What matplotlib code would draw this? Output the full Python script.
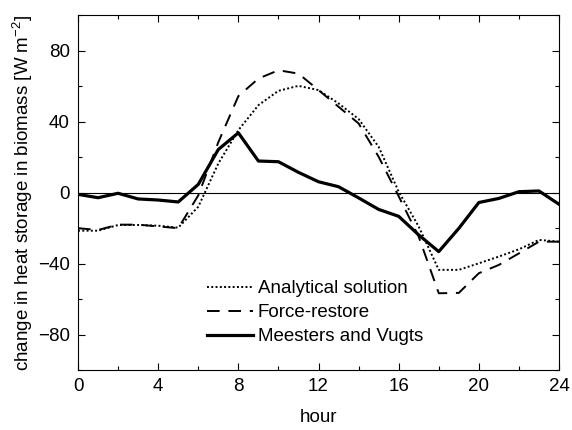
import matplotlib
matplotlib.use('Agg')
import matplotlib.pyplot as plt
from matplotlib.ticker import MultipleLocator

plt.rcParams['font.family'] = ['Liberation Sans', 'DejaVu Sans']
plt.rcParams['font.size'] = 13.5
plt.rcParams['mathtext.fontset'] = 'custom'
plt.rcParams['mathtext.rm'] = 'Liberation Sans'
plt.rcParams['mathtext.it'] = 'Liberation Sans'

# hourly values
hours = list(range(25))
analytical = [-21.4, -21.4, -18.2, -18.2, -18.6, -19.7, -7.9, 16.5, 35.3, 49.4,
              57.5, 60.3, 57.9, 50.4, 41.6, 25.9, 0.6, -19.1, -43.5, -43.5,
              -39.8, -36.0, -31.9, -26.6, -27.6]
force_restore = [-20.0, -21.0, -18.0, -18.0, -19.0, -20.0, -1.5, 28.5, 54.5, 64.4,
                 69.1, 67.2, 57.9, 48.5, 39.1, 20.3, -2.0, -24.8, -56.7, -56.5,
                 -45.4, -40.7, -34.2, -27.6, -27.6]
meesters = [-0.9, -2.8, -0.3, -3.5, -4.1, -5.2, 4.7, 24.4, 33.8, 17.9,
            17.5, 11.5, 6.2, 3.4, -2.9, -9.4, -13.3, -23.8, -33.2, -20.1,
            -5.5, -3.2, 0.6, 1.0, -6.5]

fig = plt.figure(figsize=(5.72, 4.30), dpi=100)
ax = fig.add_axes([0.1364, 0.1395, 0.8409, 0.8245])

ax.axhline(0, color='black', linewidth=0.8, zorder=1)
ax.plot(hours, analytical, color='black', linestyle=(0, (1, 1.2)), linewidth=1.4,
        label='Analytical solution')
ax.plot(hours, force_restore, color='black', linestyle=(0, (6.5, 4.5)), linewidth=1.4,
        label='Force-restore')
ax.plot(hours, meesters, color='black', linestyle='-', linewidth=2.3,
        label='Meesters and Vugts')

ax.set_xlim(0, 24)
ax.set_ylim(-100, 100)
ax.xaxis.set_major_locator(MultipleLocator(4))
ax.xaxis.set_minor_locator(MultipleLocator(2))
ax.yaxis.set_major_locator(MultipleLocator(40))
ax.yaxis.set_minor_locator(MultipleLocator(20))
ax.tick_params(which='both', direction='in', top=True, right=True, width=0.8)
ax.tick_params(which='major', length=5, pad=6)
ax.tick_params(which='minor', length=3)
for s in ax.spines.values():
    s.set_linewidth(0.8)

ax.set_xlabel('hour', labelpad=10)
ax.set_ylabel('change in heat storage in biomass [W m$^{-2}$]', labelpad=2)

ax.legend(loc='lower left', bbox_to_anchor=(0.268, 0.07), frameon=False,
          borderpad=0, borderaxespad=0, handlelength=2.45, handletextpad=0.25,
          labelspacing=0.37)

fig.savefig('out.png', dpi=100)
